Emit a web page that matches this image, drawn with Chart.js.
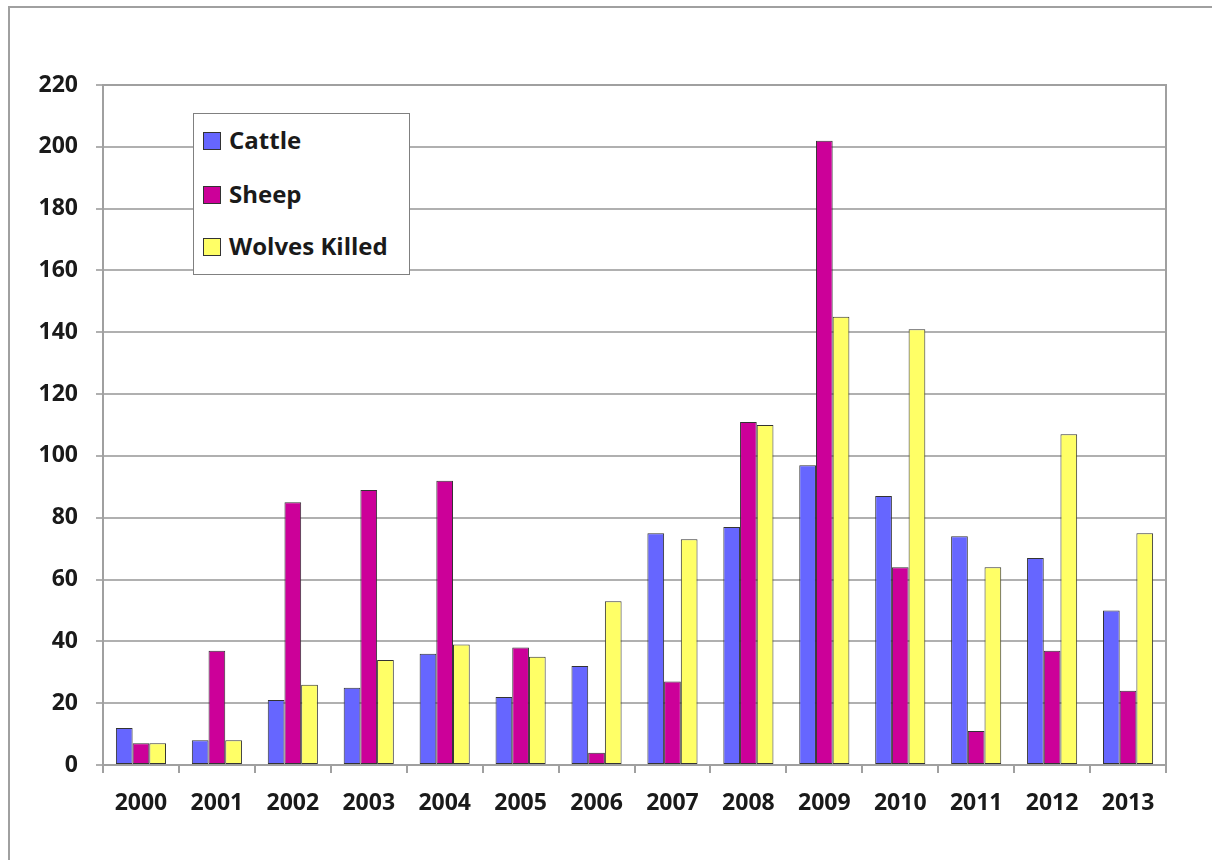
<!DOCTYPE html>
<html>
<head>
<meta charset="utf-8">
<script src="https://cdn.jsdelivr.net/npm/chart.js@4"></script>
<style>
    html, body { margin: 0; padding: 0; background: #fff; overflow: hidden; }
    #frame {
        position: absolute; left: 8px; top: 6px; width: 1300px; height: 900px;
        border-left: 2px solid #a0a0a0; border-top: 2px solid #a0a0a0;
    }
    #wrap { position: absolute; left: 0; top: 0; width: 1212px; height: 860px; }
    #legend {
        position: absolute; left: 193px; top: 113px; width: 215px; height: 160px;
        border: 1.5px solid #808080; background: #fff;
        font-family: "Open Sans", sans-serif; font-weight: bold; font-size: 24px; color: #1a1a1a;
    }
    .item { position: absolute; left: 9px; height: 30px; line-height: 30px; white-space: nowrap; }
    .box { display: inline-block; width: 16px; height: 16px; border: 1px solid #333; vertical-align: middle; margin-right: 8px; margin-top: -4px; }
</style>
</head>
<body>
<div id="frame"></div>
<div id="wrap">
    <canvas id="canvasChart" width="1212" height="860"></canvas>
    <div id="legend"></div>
</div>
<script>
var years = ['2000','2001','2002','2003','2004','2005','2006','2007','2008','2009','2010','2011','2012','2013'];
var cattle = [12, 8, 21, 25, 36, 22, 32, 75, 77, 97, 87, 74, 67, 50];
var sheep = [7, 37, 85, 89, 92, 38, 4, 27, 111, 202, 64, 11, 37, 24];
var wolvesKilled = [7, 8, 26, 34, 39, 35, 53, 73, 110, 145, 141, 64, 107, 75];
var seriesNames = ['Cattle', 'Sheep', 'Wolves Killed'];
var seriesColors = ['#6666ff', '#cc0099', '#ffff66'];
var yTicks = [0, 20, 40, 60, 80, 100, 120, 140, 160, 180, 200, 220];

var tickFont = { family: 'Open Sans', weight: 'bold', size: 23 };

// frame around the plot area (top + right edges)
var plotBorder = {
    id: 'plotBorder',
    afterDraw: function(chart) {
        var a = chart.chartArea, ctx = chart.ctx;
        ctx.save();
        ctx.strokeStyle = '#a0a0a0';
        ctx.lineWidth = 2;
        ctx.strokeRect(a.left, a.top, a.right - a.left, a.bottom - a.top);
        ctx.restore();
    }
};

var ctx = document.getElementById('canvasChart').getContext('2d');
var myChart = new Chart(ctx, {
    type: 'bar',
    data: {
        labels: years,
        datasets: [cattle, sheep, wolvesKilled].map(function(vals, i) {
            return {
                label: seriesNames[i],
                data: vals,
                backgroundColor: seriesColors[i],
                borderColor: '#333333',
                borderWidth: 1,
                borderSkipped: false,
                categoryPercentage: 0.66,
                barPercentage: 1.0
            };
        })
    },
    plugins: [plotBorder],
    options: {
        responsive: false,
        animation: false,
        layout: { padding: { left: 0, top: 85, right: 46, bottom: 0 } },
        plugins: { legend: { display: false }, tooltip: { enabled: false } },
        scales: {
            x: {
                afterFit: function(scale) { scale.height = 95; },
                grid: { drawOnChartArea: false, drawTicks: true, tickLength: 8, color: '#a0a0a0', lineWidth: 2 },
                border: { color: '#a0a0a0', width: 2 },
                ticks: { font: tickFont, color: '#1a1a1a', padding: 17, maxRotation: 0 }
            },
            y: {
                min: 0,
                max: 220,
                afterFit: function(scale) { scale.width = 103; },
                afterBuildTicks: function(scale) { scale.ticks = yTicks.map(function(v) { return { value: v }; }); },
                grid: { color: '#b0b0b0', lineWidth: 2, tickLength: 7 },
                border: { color: '#a0a0a0', width: 2 },
                ticks: { font: tickFont, color: '#1a1a1a', padding: 18 }
            }
        }
    }
});

// legend box drawn over the plot
var legend = document.getElementById('legend');
var rowTops = [11, 65, 117];
seriesNames.forEach(function(name, i) {
    var row = document.createElement('div');
    row.className = 'item';
    row.style.top = rowTops[i] + 'px';
    row.innerHTML = '<span class="box" style="background:' + seriesColors[i] + '"></span>' + name;
    legend.appendChild(row);
});
</script>
</body>
</html>
